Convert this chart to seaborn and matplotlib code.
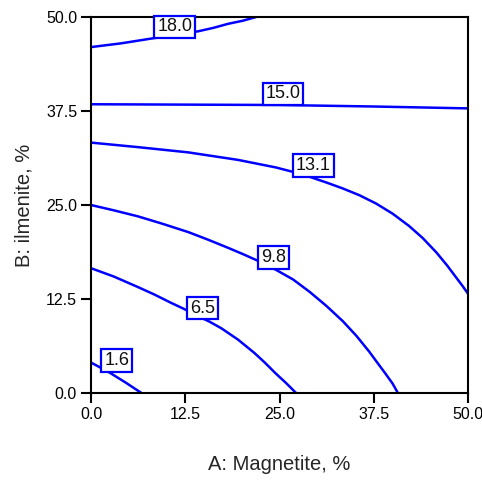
import pandas as pd
import matplotlib.pyplot as plt
import seaborn as sns

# contour levels of the response
levels = ['1.6', '6.5', '9.8', '13.1', '15.0', '18.0']

# points along each contour line (A = magnetite %, B = ilmenite %)
a_1_6 = [0.0, 2.25, 4.5, 6.7]
b_1_6 = [4.05, 2.85, 1.45, 0.0]

a_6_5 = [0.0, 3.0, 6.2, 8.4, 10.6, 12.3, 14.0, 15.7, 17.3, 19.5, 21.7, 23.1, 24.5, 25.9, 27.2]
b_6_5 = [16.6, 15.5, 14.1, 13.1, 12.0, 11.2, 10.3, 9.5, 8.6, 7.1, 5.3, 4.0, 2.6, 1.3, 0.0]

a_9_8 = [0.0, 3.0, 6.2, 9.5, 12.9, 15.5, 18.2, 20.2, 22.1, 24.5, 26.8, 29.0,
         31.2, 33.4, 35.2, 36.9, 38.0, 39.0, 40.0, 40.7]
b_9_8 = [25.0, 24.3, 23.5, 22.5, 21.4, 20.4, 19.3, 18.45, 17.6, 16.4, 15.1, 13.45,
         11.6, 9.55, 7.6, 5.5, 4.0, 2.65, 1.25, 0.0]

a_13_1 = [0.0, 6.2, 12.9, 19.5, 24.5, 27.0, 29.0, 31.2, 33.4, 35.6, 37.8, 40.0,
          42.2, 44.0, 45.8, 47.2, 48.4, 49.3, 50.0]
b_13_1 = [33.3, 32.7, 32.0, 31.0, 30.0, 29.35, 28.75, 28.0, 27.2, 26.3, 25.2, 23.85,
          22.2, 20.6, 18.7, 17.0, 15.4, 14.2, 13.2]

a_15_0 = [0.0, 12.5, 25.0, 37.5, 50.0]
b_15_0 = [38.4, 38.35, 38.3, 38.1, 37.85]

a_18_0 = [0.0, 4.0, 8.4, 11.3, 14.2, 16.2, 18.2, 20.1, 21.9]
b_18_0 = [46.0, 46.5, 47.2, 47.6, 48.1, 48.55, 49.1, 49.5, 50.0]

# label box centres
label_a = [3.4, 14.8, 24.2, 29.5, 25.5, 11.1]
label_b = [4.35, 11.3, 18.0, 30.25, 39.8, 48.7]

ticks = [0.0, 12.5, 25.0, 37.5, 50.0]

curves = [(a_1_6, b_1_6), (a_6_5, b_6_5), (a_9_8, b_9_8),
          (a_13_1, b_13_1), (a_15_0, b_15_0), (a_18_0, b_18_0)]
frames = []
for lvl, (a, b) in zip(levels, curves):
    frames.append(pd.DataFrame({'A': a, 'B': b, 'level': lvl}))
df = pd.concat(frames, ignore_index=True)

sns.set_style('ticks')
plt.rcParams['font.family'] = ['Liberation Sans', 'DejaVu Sans']

fig = plt.figure(figsize=(4.82, 4.82), dpi=100)
ax = fig.add_axes([0.1888, 0.1846, 0.7822, 0.7801])

sns.lineplot(data=df, x='A', y='B', hue='level', units='level', estimator=None,
             sort=False, palette={l: '#0000ff' for l in levels}, linewidth=1.8,
             legend=False, ax=ax, solid_joinstyle='round', solid_capstyle='round')

for lvl, x, y in zip(levels, label_a, label_b):
    ax.text(x, y, lvl, ha='center', va='center', fontsize=13, color='#111111', zorder=5,
            bbox=dict(boxstyle='square,pad=0.15', facecolor='white',
                      edgecolor='#0000ff', linewidth=1.6))

ax.set_xlim(0, 50)
ax.set_ylim(0, 50)
ax.set_xticks(ticks)
ax.set_yticks(ticks)
ax.set_xticklabels([f'{t:.1f}' for t in ticks])
ax.set_yticklabels([f'{t:.1f}' for t in ticks])
ax.tick_params(direction='out', length=7, width=1.5, labelsize=11.5,
               colors='black', pad=3)
for s in ax.spines.values():
    s.set_linewidth(1.5)
    s.set_color('black')
    s.set_visible(True)

ax.set_xlabel('A: Magnetite, %', fontsize=14.5, labelpad=24)
ax.set_ylabel('B: ilmenite, %', fontsize=14.5, labelpad=9)

fig.savefig('out.png', dpi=100)
